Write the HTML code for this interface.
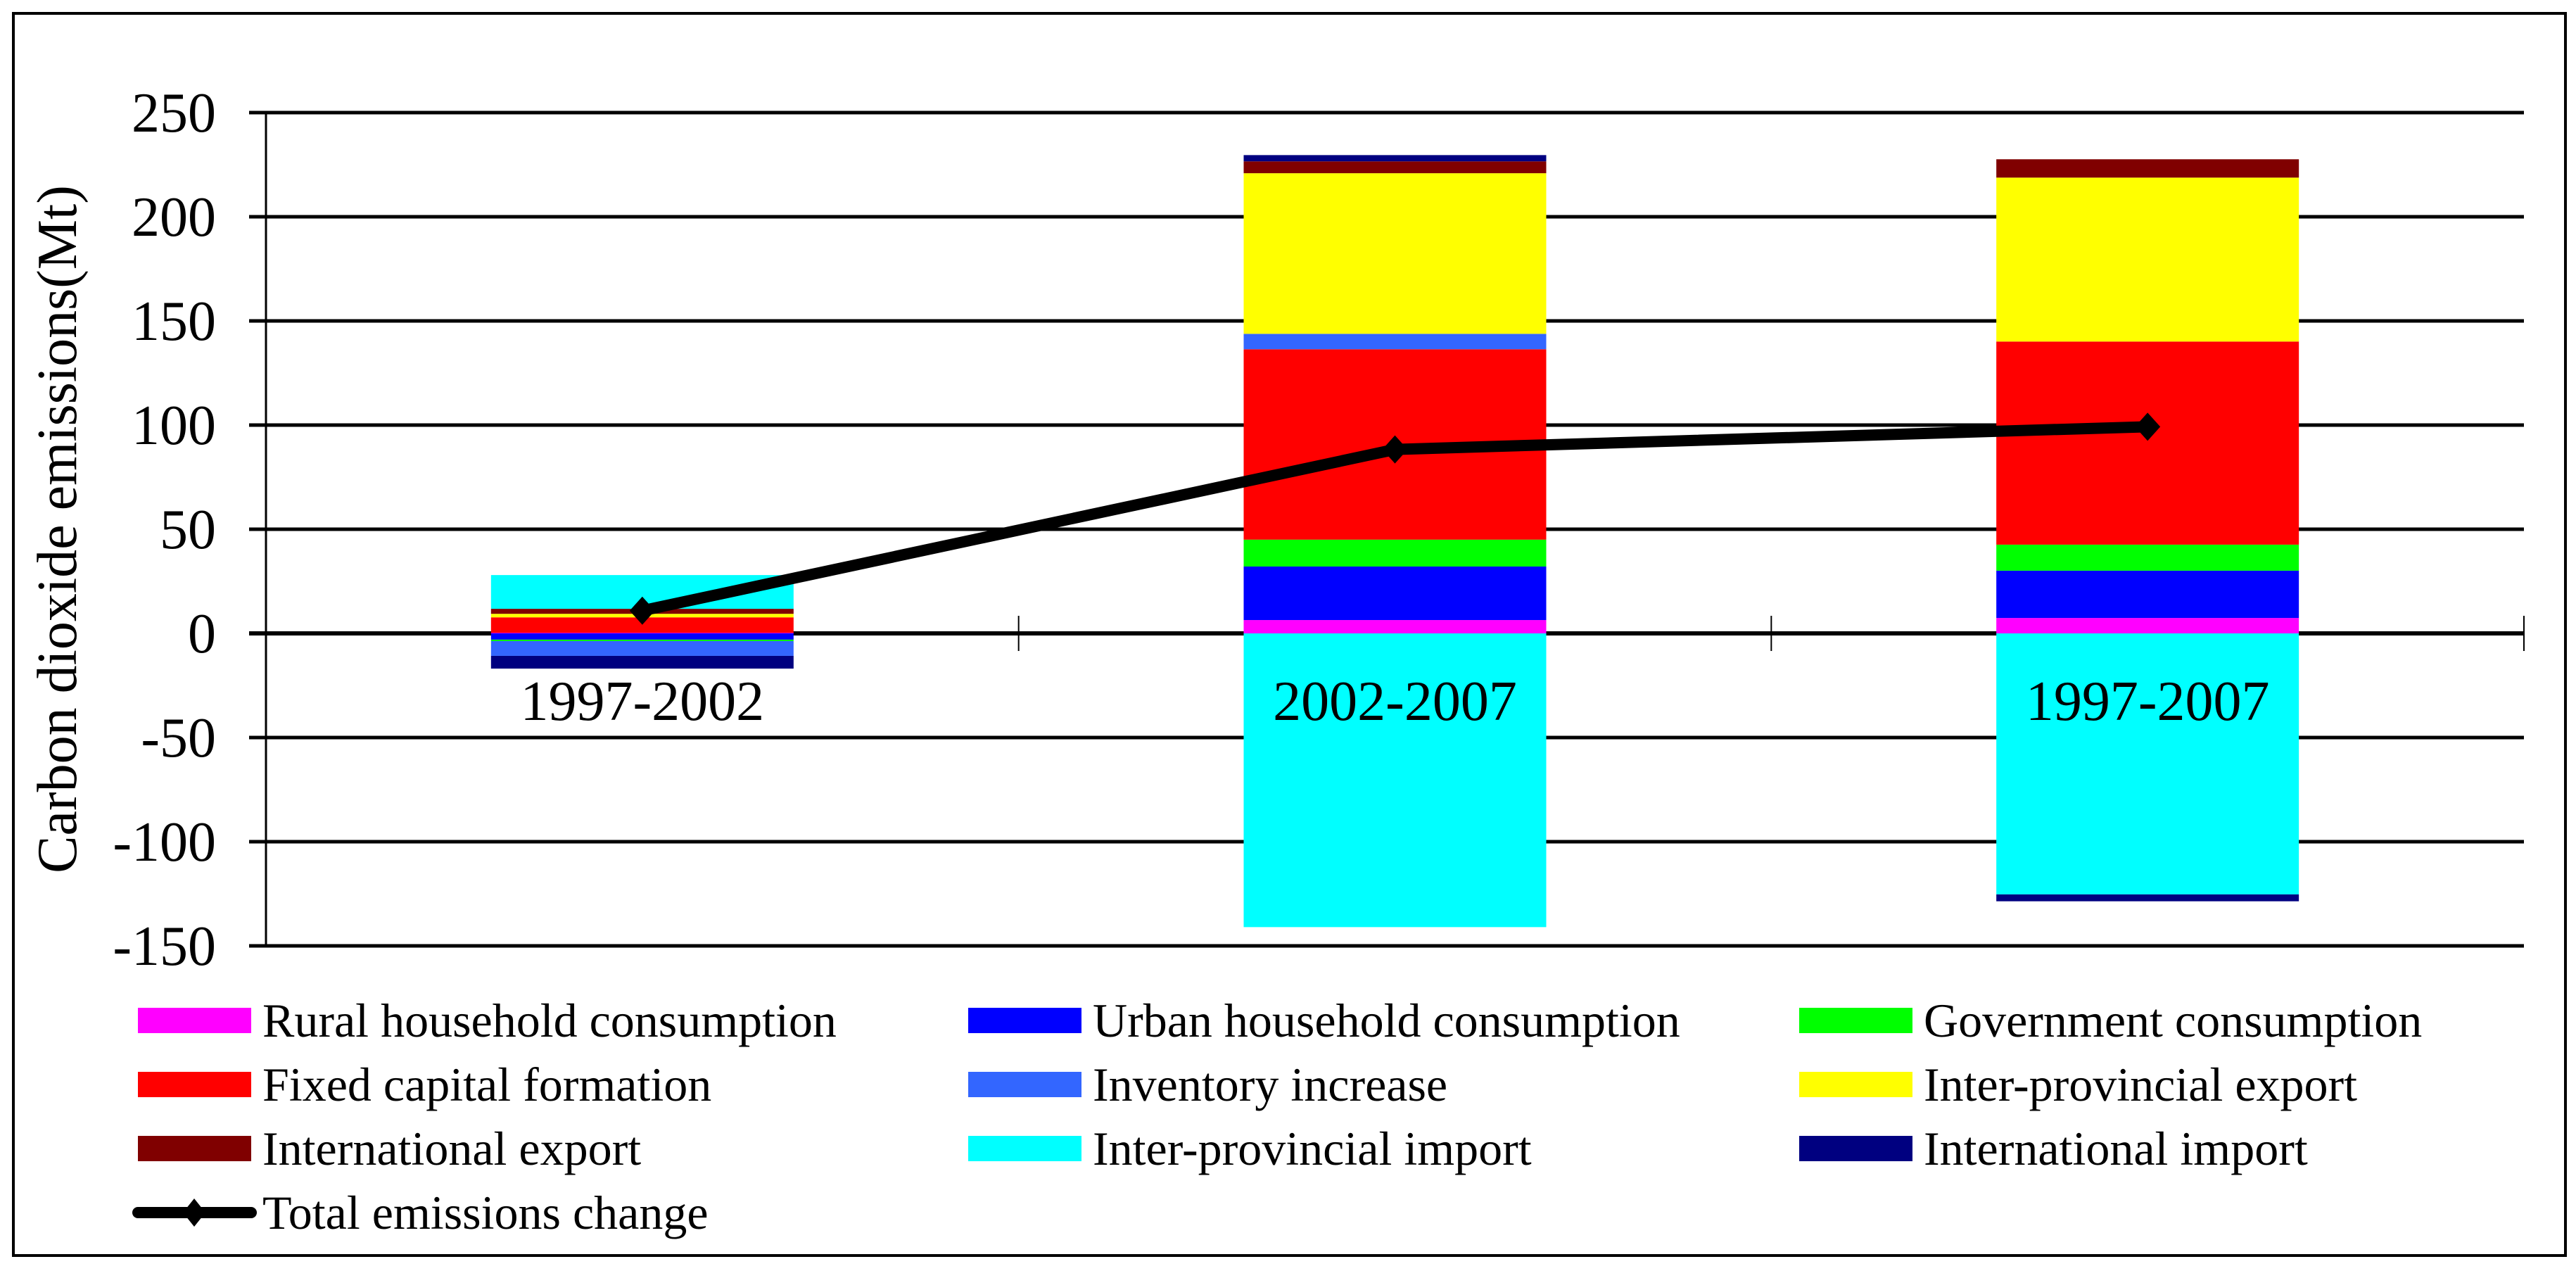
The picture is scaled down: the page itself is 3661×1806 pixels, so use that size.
<!DOCTYPE html>
<html><head><meta charset="utf-8"><style>
html,body{margin:0;padding:0;background:#fff;}
svg{display:block;}
svg text{font-family:"Liberation Serif","Times New Roman",Tinos,"DejaVu Serif","Noto Serif CJK SC",serif;}
</style></head><body>
<svg id="chart" width="3661" height="1806" viewBox="0 0 3661 1806" xmlns="http://www.w3.org/2000/svg">
<rect x="19" y="19" width="3627" height="1765" fill="#fff" stroke="#000" stroke-width="4"/>
<g id="grid"></g><g id="bars"></g><g id="axes"></g><g id="line"></g><g id="labels"></g><g id="legend"></g>
<text transform="translate(108,752) rotate(-90)" text-anchor="middle" font-size="80">Carbon dioxide emissions(Mt)</text>
</svg>
<script>
const categories = ["1997-2002","2002-2007","1997-2007"];
const seriesNames = ["Rural household consumption","Urban household consumption","Government consumption","Fixed capital formation","Inventory increase","Inter-provincial export","International export","Inter-provincial import","International import"];
const seriesColors = ["#ff00ff","#0000ff","#00ff00","#ff0000","#3366ff","#ffff00","#800000","#00ffff","#000080"];
const rural = [0.3, 6.4, 7.4];
const urban = [-3.0, 25.7, 22.7];
const government = [-0.7, 12.9, 12.5];
const fixedCapital = [7.4, 91.4, 97.5];
const inventory = [-7.1, 7.4, 0];
const interExport = [1.7, 77.1, 78.7];
const intlExport = [2.4, 5.7, 8.8];
const interImport = [16.2, -141, -125.3];
const intlImport = [-6.1, 3.0, -3.3];
const totalChange = [10.9, 88.3, 99.2];
const yTicks = [250,200,150,100,50,0,-50,-100,-150];

const series = [rural,urban,government,fixedCapital,inventory,interExport,intlExport,interImport,intlImport];
const NS="http://www.w3.org/2000/svg";
const X0=378, X1=3587, Y0=900, PXU=2.96;
const catW=(X1-X0)/categories.length, barW=430;
function y(v){return Y0 - v*PXU;}
function xc(i){return X0 + catW*(i+0.5);}
function mk(tag,attrs,parent){const e=document.createElementNS(NS,tag);for(const k in attrs)e.setAttribute(k,attrs[k]);parent.appendChild(e);return e;}
const grid=document.getElementById('grid'), bars=document.getElementById('bars'), axes=document.getElementById('axes'), line=document.getElementById('line'), labels=document.getElementById('labels'), legend=document.getElementById('legend');

yTicks.forEach(t=>{
  const l=mk('line',{x1:354,x2:X1,y1:y(t),y2:y(t),stroke:'#000','stroke-width':(t===0?6:5)},grid);
  
  
  const tx=mk('text',{x:307,y:y(t)+27,'text-anchor':'end','font-size':80},axes);
  tx.textContent=t;
  
  
});
const ax=mk('line',{x1:X0,x2:X0,y1:y(250),y2:y(-150),stroke:'#000','stroke-width':3},axes);


for(let i=1;i<=categories.length;i++){
  const tk=mk('line',{x1:X0+catW*i,x2:X0+catW*i,y1:Y0-25,y2:Y0+25,stroke:'#000','stroke-width':2},axes);
  
  
}
categories.forEach((c,i)=>{
  let pos=0,neg=0;
  series.forEach((s,k)=>{
    const v=s[i]; if(!v) return;
    let top,bot;
    if(v>0){bot=pos;pos+=v;top=pos;}else{top=neg;neg+=v;bot=neg;}
    const r=mk('rect',{x:xc(i)-barW/2,y:y(top),width:barW,height:y(bot)-y(top),fill:seriesColors[k]},bars);
    
    
  });
  const t=mk('text',{x:xc(i),y:1023,'text-anchor':'middle','font-size':80},labels);
  t.textContent=c;
  
  
});
const pts=totalChange.map((v,i)=>xc(i)+','+y(v)).join(' ');
const pl=mk('polyline',{points:pts,fill:'none',stroke:'#000','stroke-width':16,'stroke-linejoin':'round'},line);


totalChange.forEach((v,i)=>{
  const cx=xc(i),cy=y(v);
  const d=mk('polygon',{points:`${cx},${cy-20} ${cx+18},${cy} ${cx},${cy+20} ${cx-18},${cy}`,fill:'#000'},line);
  
  
});
const colX=[196,1376,2557], rowY=[1450,1541,1632,1723];
seriesNames.forEach((n,k)=>{
  const cx=colX[k%3], cy=rowY[Math.floor(k/3)];
  const g=mk('g',{},legend);
  
  
  mk('rect',{x:cx,y:cy-18,width:161,height:36,fill:seriesColors[k]},g);
  const t=mk('text',{x:cx+177,y:cy+23,'font-size':68},g);
  t.textContent=n;
});
const lg=mk('g',{},legend);


mk('line',{x1:196,x2:357,y1:rowY[3],y2:rowY[3],stroke:'#000','stroke-width':16,'stroke-linecap':'round'},lg);
mk('polygon',{points:`276,${rowY[3]-20} 292,${rowY[3]} 276,${rowY[3]+20} 260,${rowY[3]}`,fill:'#000'},lg);
const lt=mk('text',{x:373,y:rowY[3]+23,'font-size':68},lg);
lt.textContent='Total emissions change';
</script>
</body></html>
